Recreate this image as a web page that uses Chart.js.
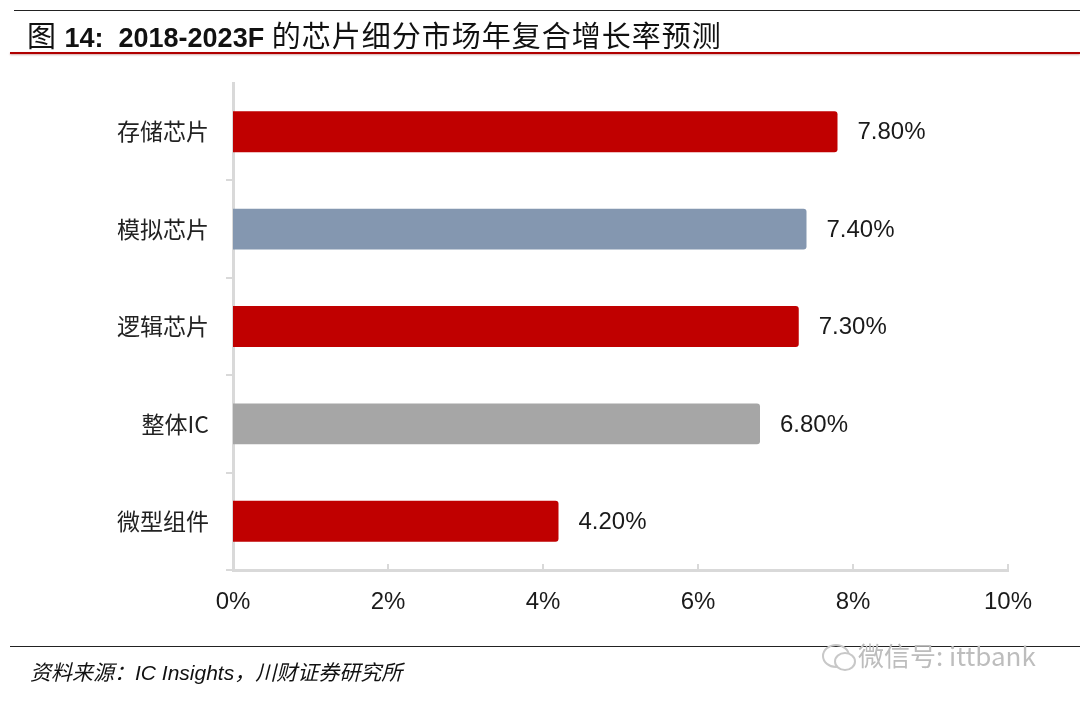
<!DOCTYPE html>
<html>
<head>
<meta charset="utf-8">
<script src="https://cdn.jsdelivr.net/npm/chart.js@4/dist/chart.umd.min.js"></script>
<style>
  html, body { margin: 0; padding: 0; background: #fff; }
  #page { position: relative; width: 1080px; height: 703px; overflow: hidden; font-family: "Liberation Sans", Arial, sans-serif; }
  #topline { position: absolute; left: 14px; right: 0; top: 10px; height: 0; border-top: 1.5px solid #222; }
  #title { position: absolute; left: 27px; top: 15px; font-size: 29px; line-height: 38px; color: #111; white-space: nowrap; font-family: "Noto Sans CJK SC", sans-serif; letter-spacing: 1px; }
  #title b { font-family: "Liberation Sans", Arial, sans-serif; font-weight: bold; font-size: 27px; letter-spacing: 0; }
  #redline { position: absolute; left: 10px; right: 0; top: 52px; height: 2px; background: #b00000; box-shadow: 0 1px 2px rgba(120,0,0,0.35); }
  #botline { position: absolute; left: 10px; right: 0; top: 646px; height: 0; border-top: 1.5px solid #222; }
  #source { position: absolute; left: 30px; top: 656px; font-size: 21px; line-height: 30px; color: #111; font-style: italic; white-space: nowrap; font-family: "Noto Sans CJK SC", sans-serif; }
  #source span { font-family: "Liberation Sans", Arial, sans-serif; }
  #wm { position: absolute; left: 858px; top: 638px; font-size: 26px; line-height: 34px; color: #bdbdbd; white-space: nowrap; font-family: "Noto Sans CJK SC", sans-serif; }
  #wmicon { position: absolute; left: 822px; top: 644px; width: 24px; height: 20px; border: 2px solid #c8c8c8; border-radius: 50%; }
  #wmicon2 { position: absolute; left: 834px; top: 652px; width: 18px; height: 15px; border: 2px solid #c8c8c8; border-radius: 50%; background: #fff; }
  #chartwrap { position: absolute; left: 0; top: 0; width: 1080px; height: 703px; }
</style>
</head>
<body>
<div id="page">
  <div id="chartwrap"><canvas id="c" width="1080" height="703"></canvas></div>
  <div id="topline"></div>
  <div id="title">图 <b>14:</b>&nbsp; <b>2018-2023F</b> 的芯片细分市场年复合增长率预测</div>
  <div id="redline"></div>
  <div id="botline"></div>
  <div id="source">资料来源：<span>IC Insights</span>，川财证券研究所</div>
  <div id="wmicon"></div><div id="wmicon2"></div>
  <div id="wm">微信号: ittbank</div>
</div>
<script>
const categories = ["存储芯片", "模拟芯片", "逻辑芯片", "整体IC", "微型组件"];
const cagrValues = [7.8, 7.4, 7.3, 6.8, 4.2];
const barColors = ["#C00000", "#8497B0", "#C00000", "#A6A6A6", "#C00000"];
const xTicks = [0, 2, 4, 6, 8, 10];

const axisGray = "#d9d9d9";

const valueLabels = {
  id: "valueLabels",
  afterDatasetsDraw(chart) {
    const ctx = chart.ctx;
    const meta = chart.getDatasetMeta(0);
    ctx.save();
    ctx.font = "24px 'Liberation Sans', Arial, sans-serif";
    ctx.fillStyle = "#1a1a1a";
    ctx.textAlign = "left";
    ctx.textBaseline = "middle";
    meta.data.forEach((bar, i) => {
      ctx.fillText(cagrValues[i].toFixed(2) + "%", bar.x + 20, bar.y + 1);
    });
    ctx.restore();
  }
};

const innerXTicks = {
  id: "innerXTicks",
  afterDraw(chart) {
    const ctx = chart.ctx;
    const xs = chart.scales.x;
    const y0 = chart.chartArea.bottom;
    ctx.save();
    ctx.strokeStyle = axisGray;
    ctx.lineWidth = 2;
    xTicks.forEach(v => {
      const px = xs.getPixelForValue(v);
      ctx.beginPath();
      ctx.moveTo(px, y0);
      ctx.lineTo(px, y0 - 6);
      ctx.stroke();
    });
    ctx.restore();
  }
};

new Chart(document.getElementById("c"), {
  type: "bar",
  data: {
    labels: categories,
    datasets: [{
      data: cagrValues,
      backgroundColor: barColors,
      borderRadius: 3,
      borderSkipped: "start",
      categoryPercentage: 1.0,
      barPercentage: 0.42
    }]
  },
  options: {
    indexAxis: "y",
    responsive: false,
    animation: false,
    devicePixelRatio: 1,
    layout: { padding: { left: 0, top: 83, right: 72, bottom: 0 } },
    plugins: { legend: { display: false }, tooltip: { enabled: false }, title: { display: false } },
    scales: {
      x: {
        min: 0,
        max: 10,
        afterBuildTicks(scale) { scale.ticks = xTicks.map(v => ({ value: v })); },
        afterFit(scale) { scale.height = 133; },
        grid: { display: false },
        border: { display: true, color: axisGray, width: 3 },
        ticks: {
          padding: 10,
          color: "#1a1a1a",
          font: { family: "'Liberation Sans', Arial, sans-serif", size: 24 },
          callback: (v) => v + "%"
        }
      },
      y: {
        afterFit(scale) { scale.width = 233; },
        grid: {
          display: true, drawOnChartArea: false, drawTicks: true, tickLength: 7, lineWidth: 2, offset: true,
          color: (ctx) => (ctx.index === 0 ? "rgba(0,0,0,0)" : axisGray)
        },
        border: { display: true, color: axisGray, width: 3 },
        ticks: {
          padding: 17,
          color: "#222",
          font: { family: "'Noto Sans CJK SC', sans-serif", size: 23 }
        }
      }
    }
  },
  plugins: [valueLabels, innerXTicks]
});
</script>
</body>
</html>
